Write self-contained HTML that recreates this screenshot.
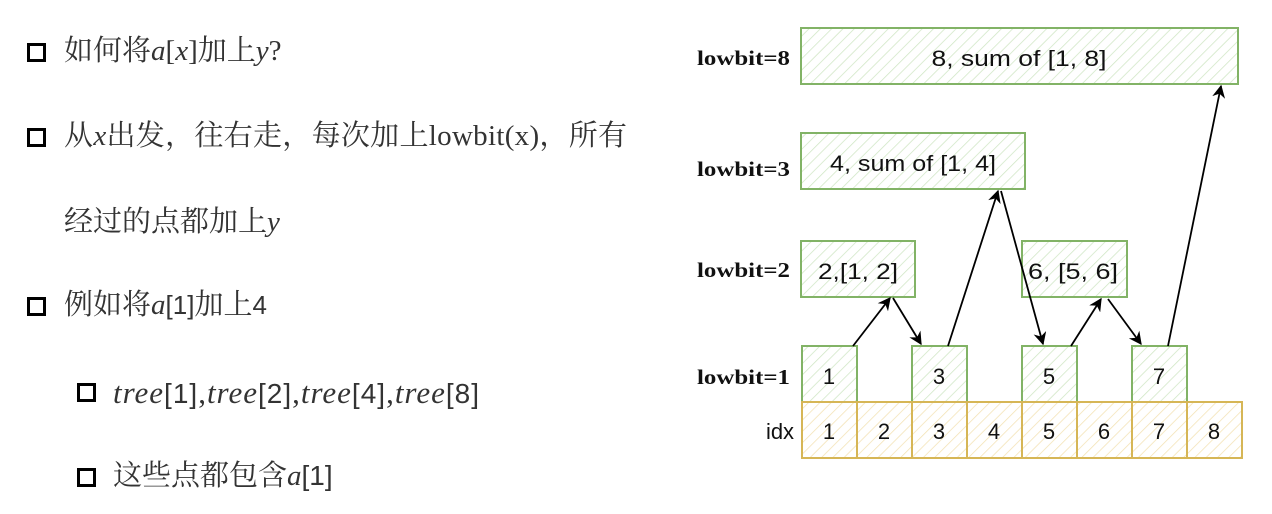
<!DOCTYPE html>
<html><head><meta charset="utf-8">
<style>
html,body{margin:0;padding:0;background:#fff;}
body{width:1272px;height:514px;position:relative;overflow:hidden;}
.t{position:absolute;font-family:"Liberation Serif","Noto Serif CJK SC",serif;font-size:29px;color:#333;white-space:nowrap;line-height:1;}
.b{position:absolute;width:13px;height:13px;border:3px solid #000;}
i{font-style:italic;}
.s{font-family:"Liberation Sans",sans-serif;font-size:26px;}
</style></head><body>
<div class="b" style="left:27px;top:43px"></div>
<div class="t" style="left:64px;top:37px">如何将<i>a</i>[<i>x</i>]加上<i>y</i>?</div>
<div class="b" style="left:27px;top:128px"></div>
<div class="t" style="left:64px;top:122px;letter-spacing:0.3px">从<i>x</i>出发，往右走，每次加上lowbit(x)，所有</div>
<div class="t" style="left:64px;top:208px">经过的点都加上<i>y</i></div>
<div class="b" style="left:27px;top:297px"></div>
<div class="t" style="left:64px;top:291px">例如将<i>a</i><span class="s">[1]</span>加上<span class="s">4</span></div>
<div class="b" style="left:77px;top:383px"></div>
<div class="t" style="left:113px;top:377px;font-size:31px;letter-spacing:1px"><i>tree</i><span class="s" style="font-size:28px">[1]</span>,<i>tree</i><span class="s" style="font-size:28px">[2]</span>,<i>tree</i><span class="s" style="font-size:28px">[4]</span>,<i>tree</i><span class="s" style="font-size:28px">[8]</span></div>
<div class="b" style="left:77px;top:468px"></div>
<div class="t" style="left:113px;top:462px">这些点都包含<i>a</i><span class="s" style="font-size:28px">[1]</span></div>

<svg width="1272" height="514" style="position:absolute;left:0;top:0" font-family="Liberation Sans, sans-serif">
<defs>
<pattern id="hg" width="8" height="8" patternUnits="userSpaceOnUse" patternTransform="rotate(45)"><rect width="8" height="8" fill="#fff"/><line x1="0" y1="0" x2="0" y2="8" stroke="#cfe6c4" stroke-width="1.5"/></pattern>
<pattern id="hy" width="8" height="8" patternUnits="userSpaceOnUse" patternTransform="rotate(45)"><rect width="8" height="8" fill="#fff"/><line x1="0" y1="0" x2="0" y2="8" stroke="#f3e2b3" stroke-width="1.5"/></pattern>
<marker id="ar" viewBox="0 0 10 10" refX="9" refY="5" markerWidth="15" markerHeight="13" orient="auto" markerUnits="userSpaceOnUse"><path d="M0,0 L10,5 L0,10 L3,5z" fill="#000"/></marker>
</defs>
<g font-family="Liberation Serif, serif" font-weight="bold" font-size="21" fill="#111">
<text x="697" y="65" textLength="93" lengthAdjust="spacingAndGlyphs">lowbit=8</text>
<text x="697" y="176" textLength="93" lengthAdjust="spacingAndGlyphs">lowbit=3</text>
<text x="697" y="277" textLength="93" lengthAdjust="spacingAndGlyphs">lowbit=2</text>
<text x="697" y="384" textLength="93" lengthAdjust="spacingAndGlyphs">lowbit=1</text>
</g>
<g stroke="#82b366" stroke-width="2" fill="url(#hg)">
<rect x="801" y="28" width="437" height="56"/>
<rect x="801" y="133" width="224" height="56"/>
<rect x="801" y="241" width="114" height="56"/>
<rect x="1022" y="241" width="105" height="56"/>
<rect x="802" y="346" width="55" height="56"/>
<rect x="912" y="346" width="55" height="56"/>
<rect x="1022" y="346" width="55" height="56"/>
<rect x="1132" y="346" width="55" height="56"/>
</g>
<g stroke="#d6b656" stroke-width="2" fill="url(#hy)">
<rect x="802" y="402" width="55" height="56"/><rect x="857" y="402" width="55" height="56"/>
<rect x="912" y="402" width="55" height="56"/><rect x="967" y="402" width="55" height="56"/>
<rect x="1022" y="402" width="55" height="56"/><rect x="1077" y="402" width="55" height="56"/>
<rect x="1132" y="402" width="55" height="56"/><rect x="1187" y="402" width="55" height="56"/>
</g>
<g font-size="22" fill="#111" text-anchor="middle">
<text x="1019" y="66" textLength="175" lengthAdjust="spacingAndGlyphs">8,  sum of [1, 8]</text>
<text x="913" y="171" textLength="166" lengthAdjust="spacingAndGlyphs">4, sum of [1, 4]</text>
<text x="858" y="279" textLength="80" lengthAdjust="spacingAndGlyphs">2,[1, 2]</text>
<text x="1073" y="279" textLength="90" lengthAdjust="spacingAndGlyphs">6, [5, 6]</text>
<text x="829" y="384">1</text><text x="939" y="384">3</text><text x="1049" y="384">5</text><text x="1159" y="384">7</text>
<text x="780" y="439">idx</text>
<text x="829" y="439">1</text><text x="884" y="439">2</text><text x="939" y="439">3</text><text x="994" y="439">4</text>
<text x="1049" y="439">5</text><text x="1104" y="439">6</text><text x="1159" y="439">7</text><text x="1214" y="439">8</text>
</g>
<g stroke="#000" stroke-width="1.8" marker-end="url(#ar)">
<line x1="853" y1="346" x2="890" y2="298"/>
<line x1="893" y1="298" x2="921" y2="344"/>
<line x1="948" y1="346" x2="998" y2="191"/>
<line x1="1001" y1="191" x2="1043" y2="344"/>
<line x1="1071" y1="346" x2="1101" y2="299"/>
<line x1="1108" y1="299" x2="1141" y2="344"/>
<line x1="1168" y1="346" x2="1221" y2="86"/>
</g>
</svg>
</body></html>
